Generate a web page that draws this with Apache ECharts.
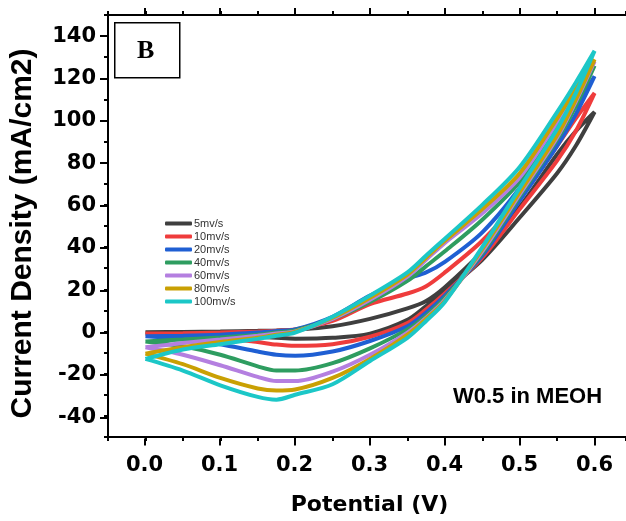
<!DOCTYPE html>
<html>
<head>
<meta charset="utf-8">
<script src="https://cdn.jsdelivr.net/npm/echarts@6/dist/echarts.min.js"></script>
<style>
html,body{margin:0;padding:0;background:#fff;}
#chart{width:626px;height:521px;}
</style>
</head>
<body>
<div id="chart"></div>
<script>
// Data
const potential = [0, 0.05, 0.1, 0.15, 0.175, 0.2, 0.25, 0.3, 0.35, 0.375, 0.4, 0.45, 0.5, 0.55, 0.575, 0.6];
const scanRates = ['5mv/s', '10mv/s', '20mv/s', '40mv/s', '60mv/s', '80mv/s', '100mv/s'];
// forward (upper) branches, 0 -> 0.6 V
const fwd5   = [-0.3, -0.2, 0, 0.3, 0.5, 0.8, 2.5, 6, 11, 14.5, 21, 38, 59, 84, 95, 104];
const fwd10  = [-1, -0.8, -0.5, 0, 0.4, 1, 5, 13, 18, 21.5, 28, 43, 63, 88, 101, 113];
const fwd20  = [-2.2, -2, -1.5, -0.5, 0.2, 1, 7, 17, 25, 28, 33, 47, 68, 94, 107, 121];
const fwd40  = [-4.7, -3.8, -2.8, -1.5, -0.5, 0.5, 6, 14, 24, 31, 38, 53, 71, 97, 111, 126];
const fwd60  = [-7.5, -5.5, -3.8, -2, -1, 0, 6, 15, 26, 34, 42, 56, 73, 99, 113, 128];
const fwd80  = [-10.5, -7.5, -5, -3, -1.5, -0.2, 6.5, 16, 27, 35, 43, 58, 75, 101, 115, 129];
const fwd100 = [-13, -8.5, -6, -3.5, -2, -0.5, 7, 17, 28, 36, 44, 60, 78, 104, 118, 133];
// reverse (lower) branches, listed at the same potentials (0 -> 0.6 V)
const rev5   = [-0.3, -0.8, -1.5, -2.5, -3, -3.4, -3, -1, 5.5, 12, 19, 34, 54, 75, 88, 104];
const rev10  = [-1, -1.8, -3, -5, -6.2, -6.8, -6, -2.5, 4, 10.5, 18, 35, 58, 81, 95, 113];
const rev20  = [-2.2, -3.5, -6, -9.5, -11, -11.5, -9.5, -4.5, 2.5, 9, 17, 36, 62, 88, 103, 121];
const rev40  = [-4.7, -7, -11, -16.5, -18.5, -18.5, -15, -8, 1, 7.5, 16, 37, 64, 91, 107, 126];
const rev60  = [-7.5, -11, -16, -21.5, -23.5, -23.5, -19, -11, -0.5, 6.5, 15, 38, 65, 92, 109, 128];
const rev80  = [-10.5, -15.5, -22, -27, -28, -27.5, -22, -13, -1.5, 6, 14.5, 39, 66, 93, 110, 129];
const rev100 = [-13, -18.5, -25.5, -31, -32.3, -30, -25, -14, -3, 5, 14, 40, 68, 96, 113, 133];
const xTicks = [0, 0.1, 0.2, 0.3, 0.4, 0.5, 0.6];
const yTicks = [-40, -20, 0, 20, 40, 60, 80, 100, 120, 140];

const fwdAll = [fwd5, fwd10, fwd20, fwd40, fwd60, fwd80, fwd100];
const revAll = [rev5, rev10, rev20, rev40, rev60, rev80, rev100];
const colors = ['#3f3f3f', '#ef3c3c', '#1f5fd3', '#2e9d60', '#b47fe0', '#c9a003', '#1cc7c7'];

function loop(f, r) {
  const pts = [];
  for (let i = 0; i < potential.length; i++) pts.push([potential[i], f[i]]);
  for (let i = potential.length - 2; i >= 0; i--) pts.push([potential[i], r[i]]);
  return pts;
}

const chart = echarts.init(document.getElementById('chart'), null, {renderer: 'canvas'});
const tickFont = {fontFamily: 'DejaVu Sans', fontWeight: 'bold', fontSize: 21, color: '#000'};
const lineStyleAxis = {color: '#000', width: 2};

const series = scanRates.map((name, i) => ({
  name: name,
  type: 'line',
  xAxisIndex: 0,
  yAxisIndex: 0,
  data: loop(fwdAll[i], revAll[i]),
  showSymbol: false,
  symbol: 'none',
  smooth: 0.3,
  lineStyle: {color: colors[i], width: 4},
  itemStyle: {color: colors[i]},
  z: 2 + i
}));

chart.setOption({
  animation: false,
  backgroundColor: '#fff',
  grid: [
    {left: 107, right: 0, top: 15, bottom: 82.5},
    {left: 144.5, right: 31.5, top: 36.17, bottom: 103.67}
  ],
  xAxis: [
    {gridIndex: 0, type: 'value', position: 'bottom', min: -0.05, max: 0.642, interval: 0.05,
     axisLine: {show: true, onZero: false, lineStyle: lineStyleAxis},
     axisTick: {show: true, length: 4, lineStyle: lineStyleAxis},
     axisLabel: {show: false}, splitLine: {show: false},
     name: 'Potential (V)', nameLocation: 'middle', nameGap: 57,
     nameTextStyle: {fontFamily: 'DejaVu Sans', fontWeight: 'bold', fontSize: 22, color: '#000', padding: [0, 0, 0, 5]}},
    {gridIndex: 0, type: 'value', position: 'top', min: -0.05, max: 0.642, interval: 0.05,
     axisLine: {show: true, onZero: false, lineStyle: lineStyleAxis},
     axisTick: {show: true, length: 4, lineStyle: lineStyleAxis},
     axisLabel: {show: false}, splitLine: {show: false}},
    {gridIndex: 1, type: 'value', position: 'bottom', min: xTicks[0], max: xTicks[xTicks.length - 1], interval: 0.1,
     offset: 21.17,
     axisLine: {show: false, onZero: false},
     axisTick: {show: true, length: 7, lineStyle: lineStyleAxis},
     axisLabel: Object.assign({show: true, margin: 17, formatter: v => v.toFixed(1)}, tickFont),
     splitLine: {show: false}},
    {gridIndex: 1, type: 'value', position: 'top', min: xTicks[0], max: xTicks[xTicks.length - 1], interval: 0.1,
     offset: 21.17,
     axisLine: {show: false, onZero: false},
     axisTick: {show: true, length: 7, lineStyle: lineStyleAxis},
     axisLabel: {show: false}, splitLine: {show: false}}
  ],
  yAxis: [
    {gridIndex: 0, type: 'value', position: 'left', min: -50, max: 150, interval: 10,
     axisLine: {show: true, onZero: false, lineStyle: lineStyleAxis},
     axisTick: {show: true, length: 4, lineStyle: lineStyleAxis},
     axisLabel: {show: false}, splitLine: {show: false},
     name: 'Current Density (mA/cm2)', nameLocation: 'middle', nameGap: 70,
     nameTextStyle: {fontFamily: 'Liberation Sans', fontWeight: 'bold', fontSize: 30, color: '#000', padding: [0, 15, 0, 0]}},
    {gridIndex: 1, type: 'value', position: 'left', min: yTicks[0], max: yTicks[yTicks.length - 1], interval: 20,
     offset: 37.5,
     axisLine: {show: false, onZero: false},
     axisTick: {show: true, length: 7, lineStyle: lineStyleAxis},
     axisLabel: Object.assign({show: true, margin: 11}, tickFont),
     splitLine: {show: false}}
  ],
  legend: {
    orient: 'vertical', left: 160, top: 212,
    data: scanRates,
    icon: 'roundRect', itemWidth: 27, itemHeight: 4, itemGap: 0,
    textStyle: {fontFamily: 'Liberation Sans', fontSize: 11, color: '#333', lineHeight: 13, padding: [0, 0, 0, -3]}
  },
  graphic: [
    {type: 'rect', left: 114, top: 22, shape: {width: 65, height: 55},
     style: {fill: '#fff', stroke: '#000', lineWidth: 1.5}, z: 10},
    {type: 'text', left: 137, top: 38, z: 11,
     style: {text: 'B', font: 'bold 26px "Liberation Serif", "Times New Roman", serif', fill: '#000'}},
    {type: 'text', left: 453, top: 386, z: 11,
     style: {text: 'W0.5 in MEOH', font: 'bold 22px "Liberation Sans", Arial, sans-serif', fill: '#000'}}
  ],
  series: series
});
</script>
</body>
</html>
